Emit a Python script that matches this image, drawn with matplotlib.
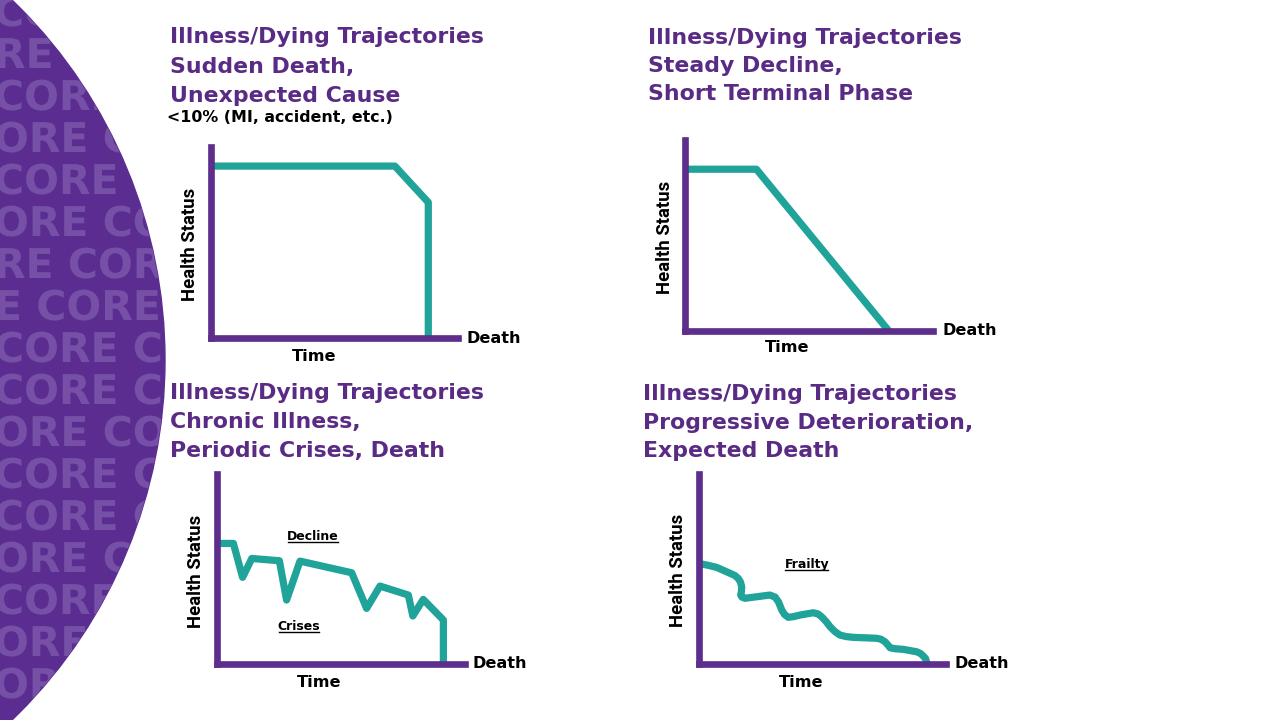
import matplotlib
matplotlib.use("Agg")
import matplotlib.pyplot as plt
from matplotlib.patches import Circle, PathPatch
from matplotlib.textpath import TextPath
from matplotlib.font_manager import FontProperties
from matplotlib.transforms import Affine2D

plt.rcParams['font.family'] = ['DejaVu Sans']

# 颜色
PURPLE_BG = '#5C2D91'
PURPLE_TXT = '#7550A6'
TITLE_C = '#5A2B84'
AXIS_C = '#5E2E8C'
TEAL = '#20A399'

# 四条轨迹 (时间 0-100, 健康状态 0-100)
sudden_t = [0, 74.5, 88, 88]
sudden_h = [90, 90, 71, 0]

steady_t = [0, 29, 82.4]
steady_h = [84.7, 84.7, 0]

chronic_t = [0, 6.8, 10.5, 14.2, 25.3, 28.2, 33.6, 54.4, 60.4, 65.8, 77.2, 79.0, 83.2, 91.3, 91.3]
chronic_h = [63.3, 63.3, 45.5, 55.4, 54.2, 33.6, 54.0, 47.9, 29.2, 40.9, 36.2, 25.2, 33.9, 23.1, 0]

frail_t = [0, 3.5, 7.3, 12.7, 14.7, 16.0, 16.9, 17.4, 17.3, 17.0, 17.5, 18.7, 23.5, 28.8,
           30.9, 32.3, 33.6, 34.7, 36.2, 38.5, 41.0, 46.3, 48.2, 49.7, 51.5, 53.1, 55.1,
           57.1, 59.6, 62.5, 72.0, 73.7, 75.3, 76.5, 77.4, 79.4, 82.7, 88.2, 89.7, 90.8,
           91.7, 92.4]
frail_h = [52.8, 51.9, 50.7, 47.6, 46.4, 44.9, 43.0, 40.5, 38.3, 36.2, 35.1, 34.5, 35.3, 36.2,
           35.1, 32.5, 28.3, 26.0, 24.5, 24.9, 25.7, 26.9, 26.3, 24.8, 22.3, 19.6, 17.0,
           15.2, 14.4, 14.0, 13.5, 13.0, 11.7, 10.0, 8.5, 8.0, 7.7, 6.4, 5.5, 4.2,
           2.9, 0]

titles = [
    ["Illness/Dying Trajectories", "Sudden Death,", "Unexpected Cause"],
    ["Illness/Dying Trajectories", "Steady Decline,", "Short Terminal Phase"],
    ["Illness/Dying Trajectories", "Chronic Illness,", "Periodic Crises, Death"],
    ["Illness/Dying Trajectories", "Progressive Deterioration,", "Expected Death"],
]

# 背景水印
wm_rows = ["CO", "RE CORE", "CORE CORE", "ORE CORE", "CORE CORE", "ORE CORE", "RE CORE",
           "E CORE C", "CORE CORE", "CORE CORE", "ORE CORE", "CORE CORE", "CORE CORE",
           "ORE CORE", "CORE CORE", "ORE CORE", "ORE CORE"]

fig = plt.figure(figsize=(12.8, 7.2), dpi=100)
bg = fig.add_axes([0, 0, 1, 1])
bg.set_xlim(0, 1280)
bg.set_ylim(720, 0)
bg.axis('off')

circ = Circle((-335, 360), 500, color=PURPLE_BG, zorder=0)
bg.add_patch(circ)
wm_font = FontProperties(family='DejaVu Sans', weight='bold')
for i, s in enumerate(wm_rows):
    tp = TextPath((0, 0), s, size=41, prop=wm_font)
    tr = Affine2D().scale(1, -1).translate(-6, 26 + 42 * i) + bg.transData
    pp = PathPatch(tp, facecolor=PURPLE_TXT, edgecolor='none', transform=tr, zorder=1)
    bg.add_patch(pp)
    pp.set_clip_path(circ)

# 标题
title_pos = [(170, [43.3, 73.3, 102.3]), (648, [44.3, 72, 100.5]),
             (170, [399.3, 428.3, 457.3]), (643, [400, 429.3, 457.3])]
for lines, (x, ys) in zip(titles, title_pos):
    for s, y in zip(lines, ys):
        bg.text(x, y, s, fontsize=15.8, fontweight='bold', color=TITLE_C, va='baseline', ha='left')

bg.text(167, 122.3, "<10% (MI, accident, etc.)", fontsize=11.4, fontweight='bold',
        color='black', va='baseline', ha='left')

# 坐标轴位置 (像素: 左, 下, 右, 上)
boxes = [(210.5, 338, 458, 147), (684.5, 331, 932.5, 140),
         (216.5, 664, 465, 473.5), (698.7, 664, 946, 473.5)]
curves = [(sudden_t, sudden_h), (steady_t, steady_h), (chronic_t, chronic_h), (frail_t, frail_h)]

for (x0, y0, x1, y1), (t, h) in zip(boxes, curves):
    ax = fig.add_axes([x0 / 1280, 1 - y0 / 720, (x1 - x0) / 1280, (y0 - y1) / 720])
    ax.set_facecolor('none')
    ax.set_xlim(0, 100)
    ax.set_ylim(0, 100)
    ax.set_xticks([])
    ax.set_yticks([])
    for side in ['top', 'right']:
        ax.spines[side].set_visible(False)
    for side in ['left', 'bottom']:
        ax.spines[side].set_color(AXIS_C)
        ax.spines[side].set_linewidth(4.8)
        ax.spines[side].set_capstyle('projecting')
    ax.plot(t, h, color=TEAL, lw=5.2, solid_joinstyle='round', solid_capstyle='butt',
            clip_on=False, zorder=2)

# 轴标签
label_pos = [
    ((467, 342.7), (314, 360.7), (190.3, 244)),
    ((942, 335), (787.5, 352.5), (665, 237.5)),
    ((472, 668.3), (319, 686.7), (196, 571)),
    ((954, 668.3), (801.3, 686.7), (678, 570.5)),
]
for d, tm, hs in label_pos:
    bg.text(d[0], d[1], "Death", fontsize=11.6, fontweight='bold', va='baseline', ha='left')
    bg.text(tm[0], tm[1], "Time", fontsize=11.6, fontweight='bold', va='baseline', ha='center')
    bg.text(hs[0], hs[1], "Health Status", fontsize=13.3, fontweight='bold', rotation=90,
            va='center', ha='center', family=['Roboto', 'DejaVu Sans'])

notes = [("Decline", 313, 540), ("Crises", 299, 630), ("Frailty", 806.7, 568.3)]
note_txt = []
for s, x, y in notes:
    note_txt.append(bg.text(x, y, s, fontsize=9, fontweight='bold', va='baseline', ha='center'))

# 下划线
fig.canvas.draw()
inv = bg.transData.inverted()
for tx in note_txt:
    bb = tx.get_window_extent()
    (ax0, ay0), (ax1, _) = inv.transform([[bb.x0 + 1, bb.y0], [bb.x1 - 1, bb.y1]])
    y = tx.get_position()[1] + 2
    bg.plot([ax0, ax1], [y, y], color='black', lw=1)

fig.savefig('out.png', dpi=100)
